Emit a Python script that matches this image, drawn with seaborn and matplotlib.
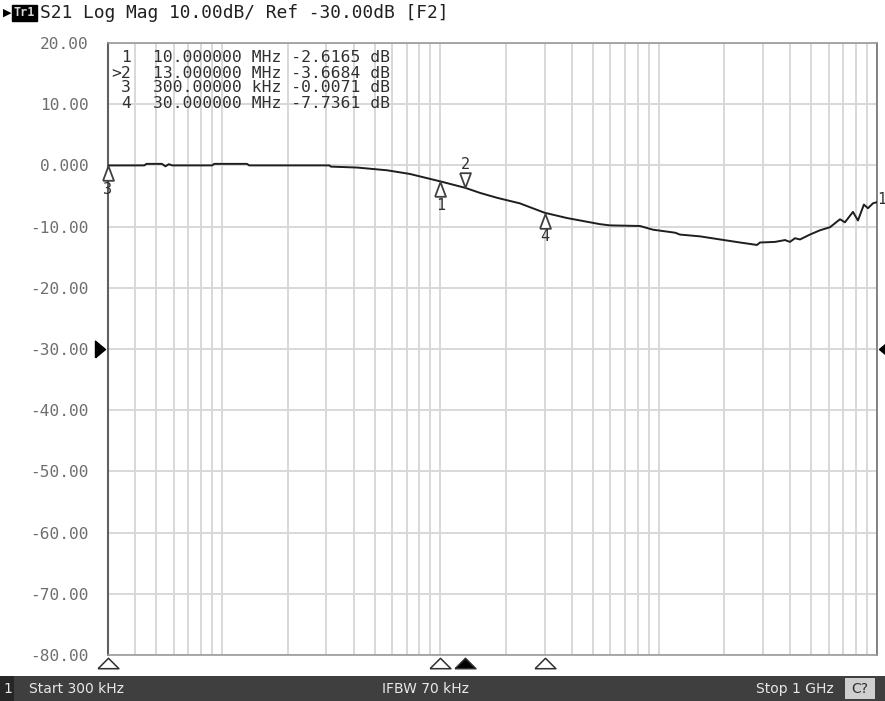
import numpy as np
import pandas as pd
import seaborn as sns
import matplotlib.pyplot as plt
from matplotlib.ticker import LogLocator, NullFormatter, FixedLocator
from matplotlib.patches import Rectangle
import matplotlib.transforms as mtransforms

sns.set_style("white")
plt.rcParams["font.family"] = ["DejaVu Sans Mono", "DejaVu Sans"]

# S21 trace, frequency in MHz, magnitude in dB
freq_mhz = [0.3, 0.44, 0.45, 0.53, 0.55, 0.57, 0.59, 0.90, 0.92, 1.30, 1.33,
            3.1, 3.15, 4.15, 5.7, 7.25, 10.0, 13.0, 15.2, 18.2, 23.1, 30.0,
            38.0, 53.8, 59.8, 82.0, 94.0, 119, 125, 155, 191, 236, 282, 291,
            341, 379, 399, 421, 444, 493, 548, 609, 677, 713, 776, 818, 871,
            909, 958, 1000]
s21_db = [-0.007, 0.0, 0.25, 0.25, -0.15, 0.2, 0.0, 0.0, 0.25, 0.25, 0.0,
          0.0, -0.2, -0.35, -0.8, -1.4, -2.6165, -3.6684, -4.5, -5.3, -6.2,
          -7.7361, -8.6, -9.6, -9.8, -9.9, -10.5, -11.0, -11.3, -11.6, -12.1,
          -12.6, -13.0, -12.6, -12.5, -12.2, -12.5, -11.9, -12.1, -11.3,
          -10.6, -10.1, -8.8, -9.3, -7.6, -9.0, -6.4, -7.0, -6.2, -6.0]

# markers: id, frequency (MHz), value (dB)
mk_ids = ["1", "2", "3", "4"]
mk_freq = [10.0, 13.0, 0.3, 30.0]
mk_db = [-2.6165, -3.6684, -0.0071, -7.7361]
mk_rows = [("1", "10.000000 MHz -2.6165 dB"),
           (">2", "13.000000 MHz -3.6684 dB"),
           ("3", "300.00000 kHz -0.0071 dB"),
           ("4", "30.000000 MHz -7.7361 dB")]
active_marker = "2"

y_ticks = [20, 10, 0, -10, -20, -30, -40, -50, -60, -70, -80]
y_labels = ["20.00", "10.00", "0.000", "-10.00", "-20.00", "-30.00",
            "-40.00", "-50.00", "-60.00", "-70.00", "-80.00"]
ref_level = -30

header = "S21 Log Mag 10.00dB/ Ref -30.00dB [F2]"
start_txt = "Start 300 kHz"
ifbw_txt = "IFBW 70 kHz"
stop_txt = "Stop 1 GHz"

W, H = 885, 701
fig = plt.figure(figsize=(W / 100, H / 100), dpi=100)
fig.patch.set_facecolor("white")
L, R, T, B = 108, 877, 43, 655
ax = fig.add_axes([L / W, 1 - B / H, (R - L) / W, (B - T) / H])

df = pd.DataFrame({"freq": np.array(freq_mhz) * 1e6, "db": s21_db})
sns.lineplot(data=df, x="freq", y="db", ax=ax, color="#1e1e1e",
             linewidth=1.4, zorder=5)

ax.set_xscale("log")
ax.set_xlim(0.3e6, 1e9)
ax.set_ylim(-80, 20)
ax.xaxis.set_major_locator(LogLocator(base=10, subs=range(1, 10), numticks=50))
ax.xaxis.set_minor_locator(FixedLocator([]))
ax.xaxis.set_major_formatter(NullFormatter())
ax.set_yticks(y_ticks)
ax.set_yticklabels(y_labels, color="#6e6e6e", fontsize=11.6)
ax.tick_params(axis="both", length=0)
ax.tick_params(axis="y", pad=14)
ax.grid(True, which="major", color="#d8d8d8", linewidth=1.4)
ax.set_xlabel("")
ax.set_ylabel("")
for side in ["top", "bottom", "right"]:
    ax.spines[side].set_color("#9a9a9a")
    ax.spines[side].set_linewidth(1.2)
ax.spines["left"].set_color("#606060")
ax.spines["left"].set_linewidth(1.5)
ax.spines["right"].set_color("#707070")

# marker table
for i, (num, rest) in enumerate(mk_rows):
    yy = 1 - (58 + i * 15) / H
    fig.text(131 / W, yy, num, ha="right", va="center",
             fontsize=11.8, color="#303030")
    fig.text(153 / W, yy, rest, ha="left", va="center",
             fontsize=11.8, color="#303030")

# markers on the trace
off = lambda dy: ax.transData + mtransforms.ScaledTranslation(0, dy / 100, fig.dpi_scale_trans)
up_tri = [(-0.75, -1), (0.75, -1), (0, 1), (-0.75, -1)]
dn_tri = [(-0.75, 1), (0.75, 1), (0, -1), (-0.75, 1)]
for mid, f, v in zip(mk_ids, mk_freq, mk_db):
    if mid == active_marker:
        ax.plot(f * 1e6, v, marker=dn_tri, markersize=10.5, mfc="white", mec="#404040",
                mew=1.3, transform=off(8), clip_on=False, zorder=6)
        ax.text(f * 1e6, v, mid, transform=off(23), ha="center", va="center",
                fontsize=11, color="#303030", zorder=6)
    else:
        ax.plot(f * 1e6, v, marker=up_tri, markersize=10.5, mfc="white", mec="#404040",
                mew=1.3, transform=off(-8), clip_on=False, zorder=6)
        ax.text(f * 1e6, v, mid, transform=off(-24), ha="center", va="center",
                fontsize=11, color="#303030", zorder=6)

# marker flags under the x axis
below = mtransforms.blended_transform_factory(ax.transData, ax.transAxes)
tri = [(-1, -0.5), (1, -0.5), (0, 0.5), (-1, -0.5)]
for mid, f in zip(mk_ids, mk_freq):
    active = mid == active_marker
    ax.plot(f * 1e6, -8 / (B - T), marker=tri, markersize=15,
            mfc="black" if active else "white", mec="#303030", mew=1.1,
            transform=below, clip_on=False, zorder=6)

# reference level arrows
ref_tr = mtransforms.blended_transform_factory(ax.transAxes, ax.transData)
ax.plot(-8 / (R - L), ref_level, marker=[(-0.6, -1), (-0.6, 1), (0.6, 0), (-0.6, -1)],
        markersize=12, color="black", transform=ref_tr, clip_on=False)
ax.plot(1 + 7 / (R - L), ref_level, marker=[(0.6, -1), (0.6, 1), (-0.6, 0), (0.6, -1)],
        markersize=12, color="black", transform=ref_tr, clip_on=False)
ax.text(1.0005, s21_db[-1] + 0.5, "1", transform=ref_tr, ha="left", va="center",
        fontsize=10.5, color="#303030")

# header line
fig.text(3 / W, 1 - 13 / H, "\u25B6", fontsize=8, color="black", va="center",
         family="DejaVu Sans")
fig.text(14 / W, 1 - 13 / H, "Tr1", fontsize=8.5, color="#d8d8d8", va="center",
         weight="bold", bbox=dict(boxstyle="square,pad=0.15", fc="black", ec="black"))
fig.text(40 / W, 1 - 13 / H, header, fontsize=12.9, color="#202020", va="center")

# status bar
fig.patches.append(Rectangle((0, 0), 1, 25 / H, transform=fig.transFigure,
                             fc="#3f3f3f", ec="none", zorder=0))
fig.patches.append(Rectangle((0, 0), 14 / W, 25 / H, transform=fig.transFigure,
                             fc="#262626", ec="none", zorder=1))
fig.patches.append(Rectangle((845 / W, 2 / H), 30 / W, 21 / H, transform=fig.transFigure,
                             fc="#cfcfcf", ec="none", zorder=1))
sb = dict(fontsize=10, color="#e8e8e8", va="center", family="DejaVu Sans")
fig.text(3 / W, 1 - 689 / H, "1", **sb)
fig.text(29 / W, 1 - 689 / H, start_txt, **sb)
fig.text(426 / W, 1 - 689 / H, ifbw_txt, ha="center", **sb)
fig.text(834 / W, 1 - 689 / H, stop_txt, ha="right", **sb)
fig.text(860 / W, 1 - 689 / H, "C?", ha="center", fontsize=10, color="#303030",
         va="center", family="DejaVu Sans")

fig.savefig("out.png", dpi=100)
